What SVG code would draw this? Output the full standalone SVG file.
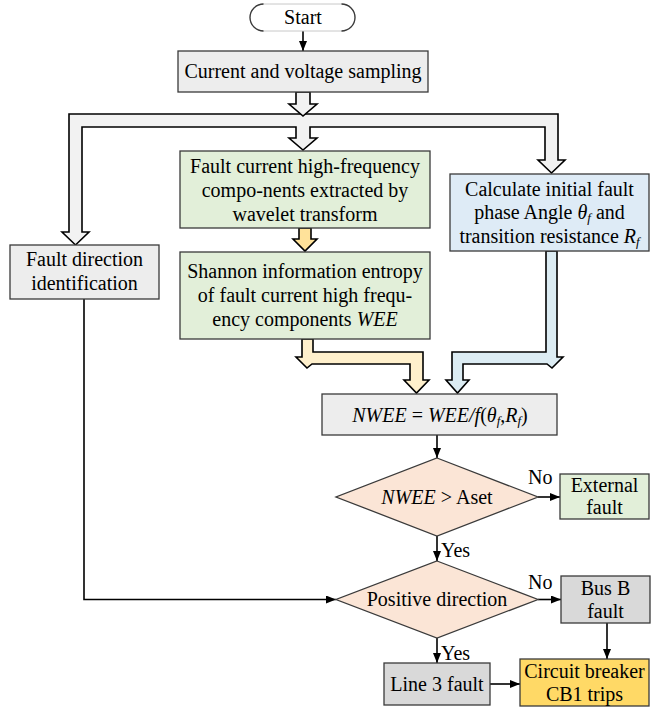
<svg xmlns="http://www.w3.org/2000/svg" width="651" height="709" viewBox="0 0 651 709" font-family="'Liberation Serif', 'DejaVu Serif', serif">
<style>
text{font-size:20px;fill:#000;text-anchor:middle}
.box{stroke:#3a3a3a;stroke-width:1.3}
.gray{fill:#ededed}
.dgray{fill:#d9d9d9}
.green{fill:#e2efd9}
.blue{fill:#deebf6}
.gold{fill:#ffd966}
.dia{fill:#fbe5d6;stroke:#3a3a3a;stroke-width:1.3}
.hol{stroke:#000;stroke-width:1.6;stroke-linejoin:miter}
.ln{fill:none;stroke:#000;stroke-width:1.6}
.it{font-style:italic}
.sm{font-size:13px}
.lbl{text-anchor:start}
</style>
<defs>
<marker id="ah" markerWidth="10" markerHeight="8" refX="10" refY="4" orient="auto" markerUnits="userSpaceOnUse">
<path d="M0,0 L10,4 L0,8 z" fill="#000"/>
</marker>
</defs>

<g id="connectors">
<polygon class="hol" fill="#f2f2f2" points="69,114 558,114 558,160 565,160 551.5,173 538,160 545,160 545,127 310,127 310,138 317,138 303,150 289,138 296,138 296,127 82,127 82,232 89,232 75.5,245 62,232 69,232"/>
<polygon class="hol" fill="#f2f2f2" points="296,92 310,92 310,104 317,104 303,116 289,104 296,104"/>
<polygon class="hol" fill="#ffe29a" points="299,228 311,228 311,239 317,239 305,251 293,239 299,239"/>
<polygon class="hol" fill="#fff0cc" points="302,339 313,339 313,352 423,352 423,380 429,380 416.5,393 404,380 410,380 410,364 312,364 307,368 296,357 302,357"/>
<polygon class="hol" fill="#dcecf3" points="546,251 557,251 557,357 563,357 552,368 547,364 463,364 463,380 469,380 457.5,393 446,380 452,380 452,352 546,352"/>
<line class="ln" x1="303" y1="31" x2="303" y2="51" marker-end="url(#ah)"/>
<polyline class="ln" points="84,299 84,599.5 336,599.5" marker-end="url(#ah)"/>
<line class="ln" x1="437" y1="435" x2="437" y2="458" marker-end="url(#ah)"/>
<line class="ln" x1="538" y1="497" x2="560" y2="497" marker-end="url(#ah)"/>
<line class="ln" x1="437" y1="536" x2="437" y2="561" marker-end="url(#ah)"/>
<line class="ln" x1="538" y1="599.5" x2="561" y2="599.5" marker-end="url(#ah)"/>
<line class="ln" x1="437" y1="638" x2="437" y2="663" marker-end="url(#ah)"/>
<line class="ln" x1="607" y1="623" x2="607" y2="659" marker-end="url(#ah)"/>
<line class="ln" x1="490" y1="684" x2="520" y2="684" marker-end="url(#ah)"/>
<text class="lbl" x="528" y="484">No</text>
<text class="lbl" x="441" y="557">Yes</text>
<text class="lbl" x="528" y="589">No</text>
<text class="lbl" x="441" y="660">Yes</text>
</g>

<g id="start">
<rect x="250" y="4" width="105" height="27" rx="13.5" fill="#fff" stroke="#c8c8c8" stroke-width="1"/>
<path d="M263.5,4 A13.5,13.5 0 0 0 263.5,31 M341.5,4 A13.5,13.5 0 0 1 341.5,31" fill="none" stroke="#3a3a3a" stroke-width="1.3"/>
<text x="303" y="24">Start</text>
</g>

<g id="sampling">
<rect class="box gray" x="178" y="51" width="250" height="41"/>
<text x="303" y="78">Current and voltage sampling</text>
</g>

<g id="fault-direction">
<rect class="box gray" x="10" y="245" width="149" height="54"/>
<text x="84.5" y="266">Fault direction</text>
<text x="84.5" y="290">identification</text>
</g>

<g id="wavelet">
<rect class="box green" x="180" y="151" width="250" height="77"/>
<text x="305" y="173">Fault current high-frequency</text>
<text x="305" y="197">compo-nents extracted by</text>
<text x="305" y="221">wavelet transform</text>
</g>

<g id="entropy">
<rect class="box green" x="180" y="252" width="250" height="87"/>
<text x="305" y="278">Shannon information entropy</text>
<text x="305" y="302">of fault current high frequ-</text>
<text x="305" y="326">ency components  <tspan class="it">WEE</tspan></text>
</g>

<g id="calculate">
<rect class="box blue" x="450" y="174" width="199" height="77"/>
<text x="549.5" y="196">Calculate initial fault</text>
<text x="549.5" y="219">phase Angle <tspan class="it">θ</tspan><tspan class="it sm" dy="3">f</tspan><tspan dy="-3"> and</tspan></text>
<text x="549.5" y="243">transition resistance <tspan class="it">R</tspan><tspan class="it sm" dy="3">f</tspan></text>
</g>

<g id="nwee">
<rect class="box gray" x="322" y="394" width="235" height="41"/>
<text x="440" y="422"><tspan class="it">NWEE</tspan> = <tspan class="it">WEE/f</tspan>(<tspan class="it">θ</tspan><tspan class="it sm" dy="3">f</tspan><tspan dy="-3">,</tspan><tspan class="it">R</tspan><tspan class="it sm" dy="3">f</tspan><tspan dy="-3">)</tspan></text>
</g>

<g id="threshold">
<polygon class="dia" points="437,458 538,497 437,536 336,497"/>
<text x="437" y="504"><tspan class="it">NWEE</tspan> &gt; Aset</text>
</g>

<g id="external">
<rect class="box green" x="560" y="474" width="89" height="45"/>
<text x="604.5" y="492">External</text>
<text x="604.5" y="514">fault</text>
</g>

<g id="positive">
<polygon class="dia" points="437,561 538,599.5 437,638 336,599.5"/>
<text x="437" y="606">Positive direction</text>
</g>

<g id="busb">
<rect class="box dgray" x="561" y="576" width="89" height="47"/>
<text x="605.5" y="595">Bus B</text>
<text x="605.5" y="618">fault</text>
</g>

<g id="line3">
<rect class="box dgray" x="384" y="663" width="106" height="42"/>
<text x="437" y="691">Line 3 fault</text>
</g>

<g id="cb1">
<rect class="box gold" x="520" y="659" width="129" height="47"/>
<text x="584.5" y="678">Circuit breaker</text>
<text x="584.5" y="701">CB1 trips</text>
</g>
</svg>
